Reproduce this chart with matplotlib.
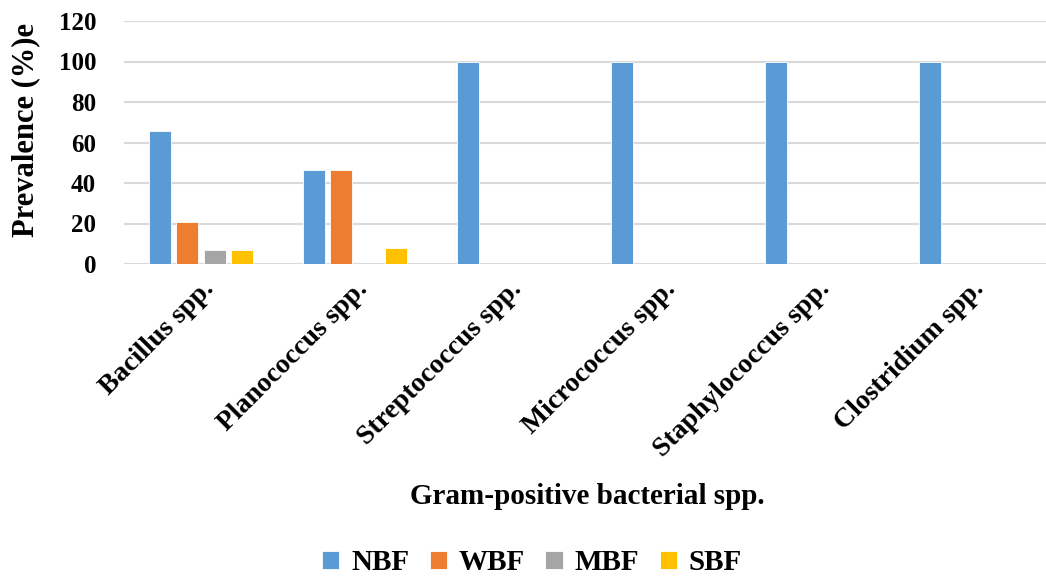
import numpy as np
import matplotlib
matplotlib.use("Agg")
import matplotlib.pyplot as plt

plt.rcParams['font.family'] = ['Liberation Serif', 'DejaVu Serif']
plt.rcParams['font.weight'] = 'bold'

# data
species = ["Bacillus spp.", "Planococcus spp.", "Streptococcus spp.",
           "Micrococcus spp.", "Staphylococcus spp.", "Clostridium spp."]
nbf = [65.5, 46.2, 100, 100, 100, 100]
wbf = [20.7, 46.2, 0, 0, 0, 0]
mbf = [6.9, 0, 0, 0, 0, 0]
sbf = [6.9, 7.7, 0, 0, 0, 0]
series_names = ["NBF", "WBF", "MBF", "SBF"]
colors = ["#5B9BD5", "#ED7D31", "#A5A5A5", "#FFC000"]

fig = plt.figure(figsize=(10.46, 5.8), dpi=100)
ax = fig.add_axes([124/1046, 1 - 264/580, 924/1046, 243/580])

x = np.arange(len(species))
step = 0.178
width = 0.143
for i, (vals, name, c) in enumerate(zip([nbf, wbf, mbf, sbf], series_names, colors)):
    ax.bar(x + (i - 1.5) * step, vals, width, color=c, label=name,
           edgecolor='white', linewidth=0.6, zorder=3)

ax.set_xlim(-0.5, len(species) - 0.5)
ax.set_ylim(0, 120)
ax.set_yticks(range(0, 121, 20))
ax.yaxis.grid(True, color='#D9D9D9', linewidth=1.5, zorder=0)
for s in ax.spines.values():
    s.set_visible(False)
ax.tick_params(length=0)
ax.tick_params(axis='y', labelsize=18, pad=20)
ax.set_xticks(x)
ax.set_xticklabels(species, rotation=45, ha='right', rotation_mode='anchor', fontsize=20)
ax.tick_params(axis='x', pad=9)

fig.text(26/1046, 1 - 130/580, "Prevalence (%)e", fontsize=22, fontweight='bold',
         rotation=90, ha='center', va='center')
fig.text(587/1046, 1 - 496/580, "Gram-positive bacterial spp.", fontsize=21,
         fontweight='bold', ha='center', va='center')
fig.legend(loc='center', bbox_to_anchor=(532/1046, 1 - 563/580), ncol=4, frameon=False,
           prop={'size': 21, 'weight': 'bold'}, handlelength=0.6, handleheight=0.6,
           columnspacing=0.7, handletextpad=0.4)

fig.savefig("out.png", dpi=100)
